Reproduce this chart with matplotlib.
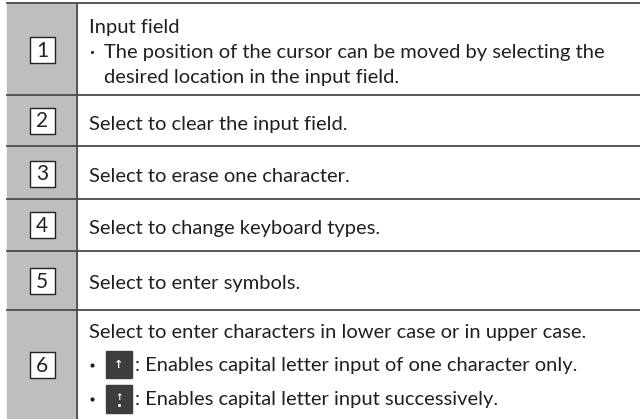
import matplotlib
matplotlib.use("Agg")
import matplotlib.pyplot as plt
from matplotlib.patches import Rectangle

# table contents
row_numbers = ["1", "2", "3", "4", "5", "6"]
row_lines = [95, 146.5, 199, 251, 310]
row_top = 3
row_bottom = 419
number_y = [50.5, 120.5, 173.5, 225, 281, 365]

# baseline y, left x, text
body_lines = [
    (33, 89, "Input field"),
    (58, 104, "The position of the cursor can be moved by selecting the"),
    (83, 104, "desired location in the input field."),
    (130, 89, "Select to clear the input field."),
    (182, 89, "Select to erase one character."),
    (234, 89, "Select to change keyboard types."),
    (289, 89, "Select to enter symbols."),
    (338, 89, "Select to enter characters in lower case or in upper case."),
    (371, 135, ": Enables capital letter input of one character only."),
    (405, 135, ": Enables capital letter input successively."),
]
bullets = [(52, 92, 2.2), (365, 92, 3), (399, 92, 3)]
key_icons = [(351, 27, False), (385, 28, True)]

plt.rcParams["font.family"] = ["Lato", "DejaVu Sans"]

fig = plt.figure(figsize=(6.4, 4.19), dpi=100)
ax = fig.add_axes([0, 0, 1, 1])
ax.set_xlim(0, 640)
ax.set_ylim(419, 0)
ax.axis("off")

# grey number column
ax.add_patch(Rectangle((7, row_top), 70, row_bottom - row_top, color="#bcbec0", zorder=1))
ax.plot([77, 77], [row_top, row_bottom], color="#3a3a3a", lw=1.1, zorder=3)

for y in [row_top] + row_lines:
    ax.plot([7, 640], [y, y], color="#4a4a4a", lw=1.3, zorder=3)

for n, y in zip(row_numbers, number_y):
    ax.add_patch(Rectangle((29.5, y - 13), 25.5, 26, facecolor="white", edgecolor="#222222", lw=1, zorder=4))
    ax.text(42.2, y + 0.5, n, ha="center", va="center", fontsize=15, color="#222222", zorder=5)

for y, x, s in body_lines:
    ax.text(x, y, s, ha="left", va="baseline", fontsize=14.5, color="#231f20", zorder=5)

for y, x, ms in bullets:
    ax.plot([x], [y], "o", color="#231f20", ms=ms, mew=0, zorder=5)

# keyboard icons, second one has a dot under the arrow
for top, h, dotted in key_icons:
    ax.add_patch(Rectangle((106, top), 26, h, color="#3d3d3d", zorder=4))
    mid = top + h / 2
    if dotted:
        ax.text(119, mid - 1.5, "↑", ha="center", va="center", fontsize=6.5, color="white", weight="bold", family="DejaVu Sans", zorder=5)
        ax.plot([119], [mid + 5.5], "o", color="white", ms=2.2, mew=0, zorder=5)
    else:
        ax.text(119, mid, "↑", ha="center", va="center", fontsize=8, color="white", weight="bold", family="DejaVu Sans", zorder=5)

fig.savefig("out.png", dpi=100)
